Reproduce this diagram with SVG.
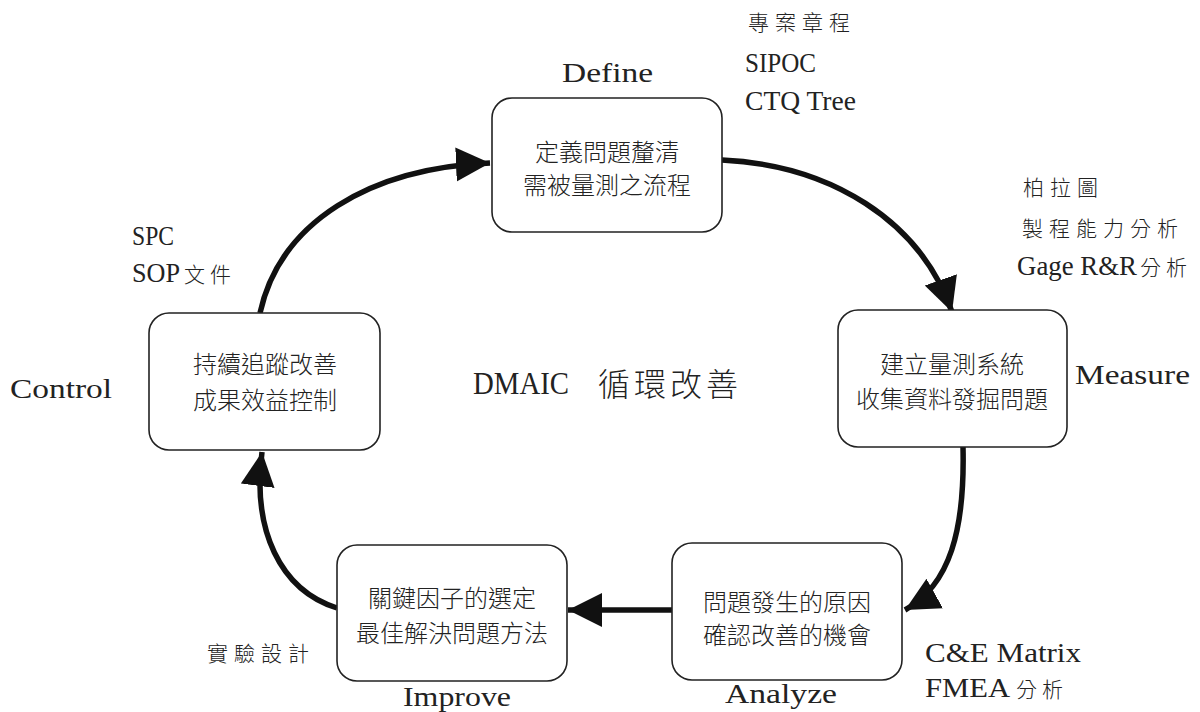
<svg xmlns="http://www.w3.org/2000/svg" width="1200" height="712" viewBox="0 0 1200 712">
<defs>
<marker id="ah" markerUnits="userSpaceOnUse" markerWidth="40" markerHeight="40" refX="34" refY="17" orient="auto">
<path d="M0,0 L34,17 L0,34 Z" fill="#111"/>
</marker>
<style>
.box{fill:#fff;stroke:#222;stroke-width:1.6}
.bt{font-family:"Noto Sans CJK TC","Noto Sans CJK SC",sans-serif;font-size:24px;fill:#222;text-anchor:middle;font-weight:300}
.lat{font-family:"Liberation Serif",serif;font-size:28px;fill:#222}
.cjk{font-family:"Noto Sans CJK TC",sans-serif;font-size:21px;fill:#222;letter-spacing:6px;font-weight:300}
.ttl{font-family:"Noto Sans CJK TC",sans-serif;font-size:32px;fill:#222;letter-spacing:4px;font-weight:300}
.con{fill:none;stroke:#111;stroke-width:5.5}
</style>
</defs>
<rect width="1200" height="712" fill="#fff"/>

<g id="connectors">
<path class="con" d="M260,313 C280,222 370,168 490,163" marker-end="url(#ah)"/>
<path class="con" d="M722,160 C830,165 920,220 952,312" marker-end="url(#ah)"/>
<path class="con" d="M963,447 C965,530 950,585 905,610" marker-end="url(#ah)"/>
<path class="con" d="M672,610 L568,610" marker-end="url(#ah)"/>
<path class="con" d="M337,608 C280,590 252,530 262,452" marker-end="url(#ah)"/>
</g>

<g id="define">
<rect class="box" x="492" y="98" width="230" height="134" rx="20"/>
<text class="bt" x="607" y="161">定義問題釐清</text>
<text class="bt" x="607" y="194">需被量測之流程</text>
<text class="lat" x="562" y="82" textLength="91" lengthAdjust="spacingAndGlyphs">Define</text>
<text class="cjk" x="748" y="30">專案章程</text>
<text class="lat" x="745" y="72" textLength="71" lengthAdjust="spacingAndGlyphs">SIPOC</text>
<text class="lat" x="745" y="110" textLength="111" lengthAdjust="spacingAndGlyphs">CTQ Tree</text>
</g>

<g id="measure">
<rect class="box" x="838" y="310" width="229" height="137" rx="20"/>
<text class="bt" x="952" y="373">建立量測系統</text>
<text class="bt" x="952" y="408">收集資料發掘問題</text>
<text class="lat" x="1075" y="384" textLength="115" lengthAdjust="spacingAndGlyphs">Measure</text>
<text class="cjk" x="1023" y="195">柏拉圖</text>
<text class="cjk" x="1022" y="236">製程能力分析</text>
<text class="lat" x="1017" y="275" textLength="120" lengthAdjust="spacingAndGlyphs">Gage R&amp;R</text>
<text class="cjk" x="1140" y="275" style="letter-spacing:5px">分析</text>
</g>

<g id="analyze">
<rect class="box" x="672" y="543" width="230" height="137" rx="20"/>
<text class="bt" x="787" y="611">問題發生的原因</text>
<text class="bt" x="787" y="644">確認改善的機會</text>
<text class="lat" x="725" y="703" textLength="112" lengthAdjust="spacingAndGlyphs">Analyze</text>
<text class="lat" x="925" y="662" textLength="156" lengthAdjust="spacingAndGlyphs">C&amp;E Matrix</text>
<text class="lat" x="925" y="697" textLength="85" lengthAdjust="spacingAndGlyphs">FMEA</text>
<text class="cjk" x="1016" y="697" style="letter-spacing:5px">分析</text>
</g>

<g id="improve">
<rect class="box" x="337" y="545" width="230" height="136" rx="20"/>
<text class="bt" x="452" y="607">關鍵因子的選定</text>
<text class="bt" x="452" y="642">最佳解決問題方法</text>
<text class="lat" x="403" y="706" textLength="108" lengthAdjust="spacingAndGlyphs">Improve</text>
<text class="cjk" x="207" y="661">實驗設計</text>
</g>

<g id="control">
<rect class="box" x="149" y="313" width="231" height="137" rx="20"/>
<text class="bt" x="265" y="373">持續追蹤改善</text>
<text class="bt" x="265" y="409">成果效益控制</text>
<text class="lat" x="10" y="398" textLength="102" lengthAdjust="spacingAndGlyphs">Control</text>
<text class="lat" x="132" y="245" textLength="42" lengthAdjust="spacingAndGlyphs">SPC</text>
<text class="lat" x="132" y="282" textLength="48" lengthAdjust="spacingAndGlyphs">SOP</text>
<text class="cjk" x="184" y="282" style="letter-spacing:5px">文件</text>
</g>

<g id="title">
<text class="lat" x="473" y="394" style="font-size:31px" textLength="96" lengthAdjust="spacingAndGlyphs">DMAIC</text>
<text class="ttl" x="598" y="396">循環改善</text>
</g>
</svg>
